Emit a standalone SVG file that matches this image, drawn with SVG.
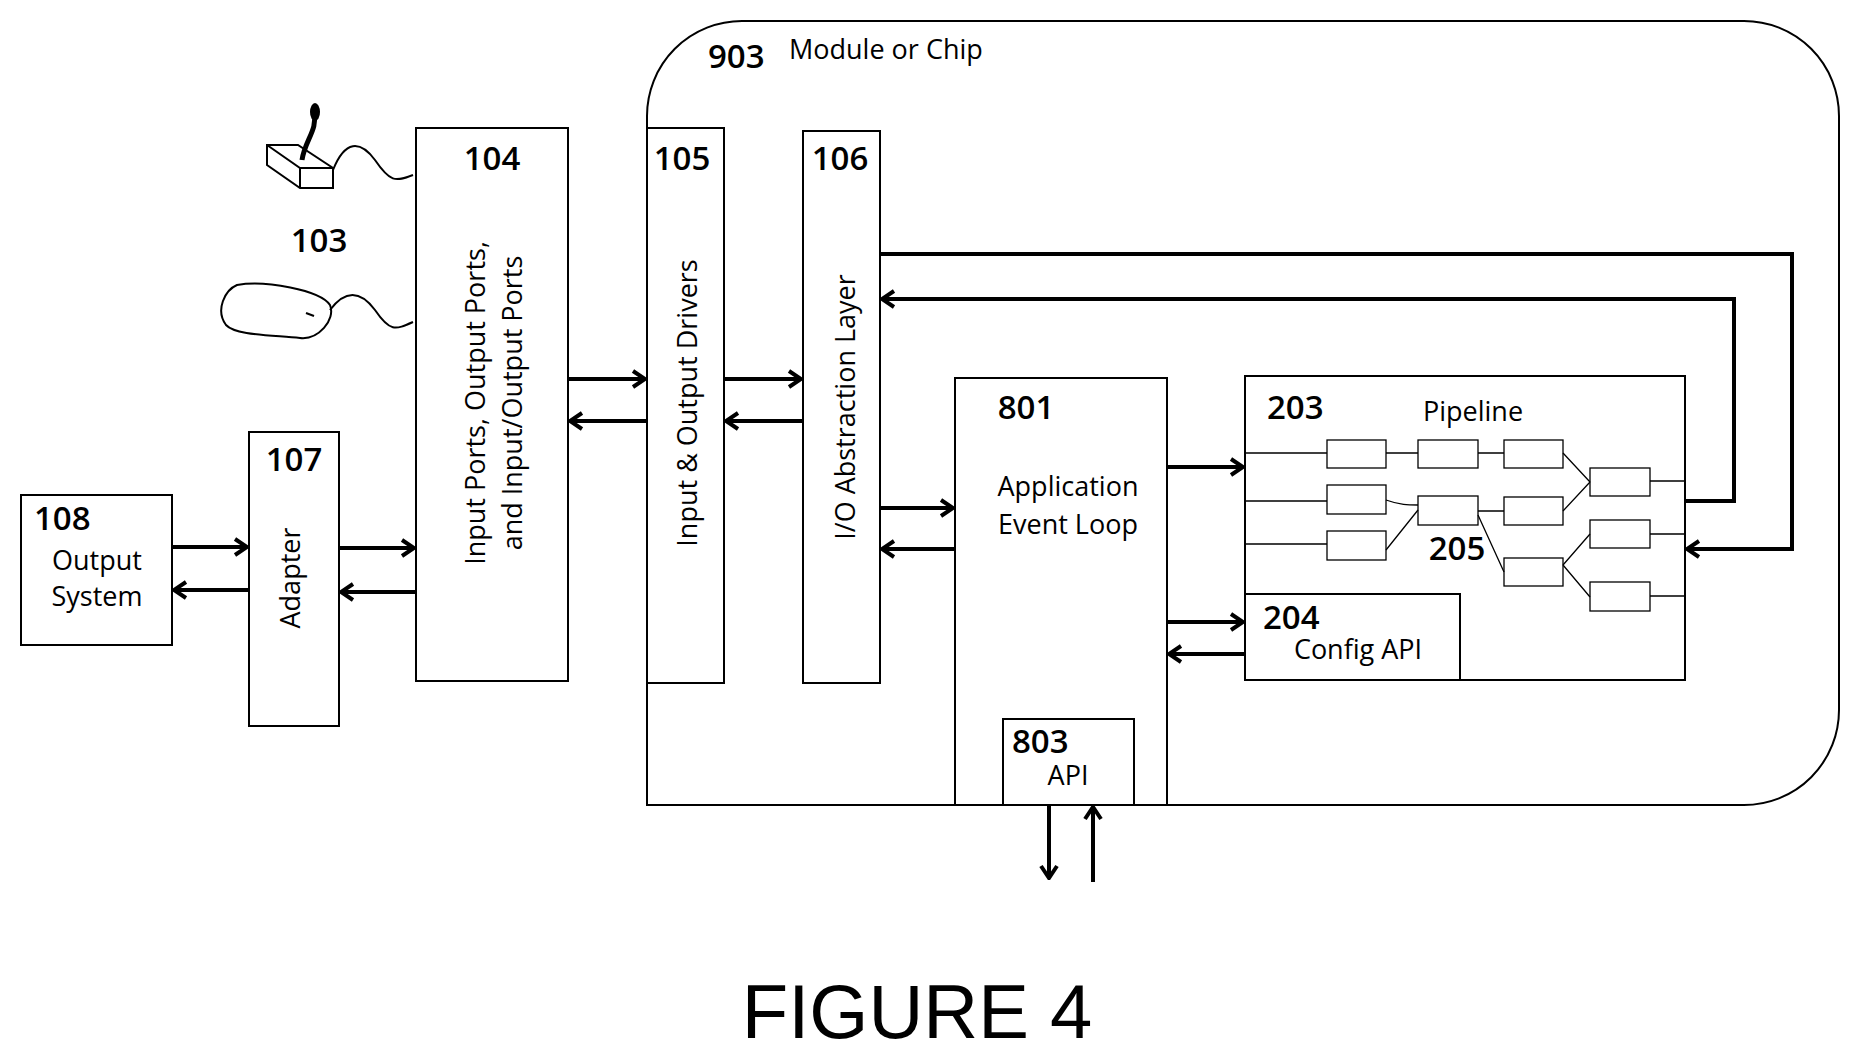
<svg xmlns="http://www.w3.org/2000/svg" width="1851" height="1056" viewBox="0 0 1851 1056">
<style>
.b{fill:none;stroke:#000;stroke-width:2}
.t{font-family:"Open Sans","DejaVu Sans",sans-serif;font-size:27px;fill:#000}
.n{font-family:"Open Sans","DejaVu Sans",sans-serif;font-size:33px;font-weight:600;fill:#000}
.w{fill:none;stroke:#000;stroke-width:4}
.f{fill:none;stroke:#000;stroke-width:1.3}
</style>
<defs>
<marker id="a" viewBox="0 0 16 20" refX="14" refY="10" markerWidth="16" markerHeight="20" markerUnits="userSpaceOnUse" orient="auto"><path d="M2,2 L14,10 L2,18" fill="none" stroke="#000" stroke-width="4"/></marker>
</defs>
<rect width="1851" height="1056" fill="#fff"/>
<g id="n903"><path class="b" d="M742,21 H1744 A95,95 0 0 1 1839,116 V710 A95,95 0 0 1 1744,805 H647 V116 A95,95 0 0 1 742,21 Z"/>
<text class="n" x="708" y="68">903</text><text class="t" x="789" y="59">Module or Chip</text></g>
<g id="n103">
<path class="b" d="M267,145 L298,145 L333,168 L333,188 L300,188 L267,165 Z M267,145 L300,168 L333,168 M300,168 L300,188"/>
<path d="M302,160 C305,140 318,130 314,112" fill="none" stroke="#000" stroke-width="5"/>
<ellipse cx="315" cy="112" rx="5" ry="9" fill="#000"/>
<path class="b" d="M333,170 C345,140 360,140 375,160 C390,182 395,182 413,175"/>
<path class="b" d="M237,285 C265,280 320,290 330,305 C336,320 318,340 300,338 C270,335 235,335 226,325 C215,310 225,290 237,285 Z"/>
<path class="b" d="M306,313 L314,316"/>
<path class="b" d="M330,310 C345,290 360,290 375,310 C390,332 395,330 413,322"/>
<text class="n" x="319" y="252" text-anchor="middle">103</text></g>
<g id="n104"><rect class="b" x="416" y="128" width="152" height="553"/>
<text class="n" x="492" y="170" text-anchor="middle">104</text>
<text class="t" transform="translate(485,403) rotate(-90)" text-anchor="middle">Input Ports, Output Ports,</text>
<text class="t" transform="translate(522,403) rotate(-90)" text-anchor="middle">and Input/Output Ports</text></g>
<g id="n105"><rect class="b" x="647" y="128" width="77" height="555"/>
<text class="n" x="682" y="170" text-anchor="middle">105</text>
<text class="t" transform="translate(697,403) rotate(-90)" text-anchor="middle">Input &amp; Output Drivers</text></g>
<g id="n106"><rect class="b" x="803" y="131" width="77" height="552"/>
<text class="n" x="840" y="170" text-anchor="middle">106</text>
<text class="t" transform="translate(855,407) rotate(-90)" text-anchor="middle">I/O Abstraction Layer</text></g>
<g id="n107"><rect class="b" x="249" y="432" width="90" height="294"/>
<text class="n" x="294" y="471" text-anchor="middle">107</text>
<text class="t" transform="translate(300,578) rotate(-90)" text-anchor="middle">Adapter</text></g>
<g id="n108"><rect class="b" x="21" y="495" width="151" height="150"/>
<text class="n" x="34" y="530">108</text>
<text class="t" x="97" y="570" text-anchor="middle">Output</text>
<text class="t" x="97" y="606" text-anchor="middle">System</text></g>
<g id="n801"><rect class="b" x="955" y="378" width="212" height="427"/>
<text class="n" x="1026" y="419" text-anchor="middle">801</text>
<text class="t" x="1068" y="496" text-anchor="middle">Application</text>
<text class="t" x="1068" y="534" text-anchor="middle">Event Loop</text></g>
<g id="n803"><rect class="b" x="1003" y="719" width="131" height="86"/>
<text class="n" x="1012" y="753">803</text>
<text class="t" x="1068" y="785" text-anchor="middle">API</text></g>
<g id="n203"><rect class="b" x="1245" y="376" width="440" height="304"/>
<text class="n" x="1267" y="419">203</text>
<text class="t" x="1473" y="421" text-anchor="middle">Pipeline</text>
<g class="f">
<rect x="1327" y="440" width="59" height="28"/><rect x="1418" y="440" width="60" height="28"/><rect x="1504" y="440" width="59" height="28"/>
<rect x="1590" y="468" width="60" height="28"/>
<rect x="1327" y="485" width="59" height="29"/><rect x="1418" y="496" width="60" height="29"/><rect x="1504" y="497" width="59" height="28"/>
<rect x="1327" y="531" width="59" height="29"/><rect x="1590" y="520" width="60" height="28"/>
<rect x="1504" y="558" width="59" height="28"/><rect x="1590" y="582" width="60" height="29"/>
<path d="M1245,453 H1327 M1386,453 H1418 M1478,453 H1504 M1563,453 L1590,482 M1563,511 L1590,482 M1650,481 H1685 M1245,501 H1327 M1386,500 C1400,505 1408,505 1418,505 M1386,550 L1418,510 M1478,511 H1504 M1478,515 L1504,572 M1563,565 L1590,534 M1563,565 L1590,597 M1650,534 H1685 M1650,596 H1685 M1245,544 H1327"/>
</g>
<text class="n" x="1457" y="560" text-anchor="middle">205</text></g>
<g id="n204"><path class="b" d="M1245,594 H1460 V680"/>
<text class="n" x="1263" y="629">204</text>
<text class="t" x="1358" y="659" text-anchor="middle">Config API</text></g>
<g id="connectors" class="w">
<path d="M172,547 H247" marker-end="url(#a)"/><path d="M249,590 H174" marker-end="url(#a)"/>
<path d="M339,548 H414" marker-end="url(#a)"/><path d="M416,592 H341" marker-end="url(#a)"/>
<path d="M568,379 H645" marker-end="url(#a)"/><path d="M647,421 H570" marker-end="url(#a)"/>
<path d="M724,379 H801" marker-end="url(#a)"/><path d="M803,421 H726" marker-end="url(#a)"/>
<path d="M880,508 H953" marker-end="url(#a)"/><path d="M955,549 H882" marker-end="url(#a)"/>
<path d="M1167,467 H1243" marker-end="url(#a)"/>
<path d="M1167,622 H1243" marker-end="url(#a)"/><path d="M1245,654 H1169" marker-end="url(#a)"/>
<path d="M880,254 H1792 V549 H1687" marker-end="url(#a)"/>
<path d="M1685,501 H1734 V299 H882" marker-end="url(#a)"/>
<path d="M1049,805 V878" marker-end="url(#a)"/><path d="M1093,882 V807" marker-end="url(#a)"/>
</g>
<text x="917" y="1038" text-anchor="middle" font-family="Liberation Sans, Arial, sans-serif" font-size="76">FIGURE 4</text>
</svg>
